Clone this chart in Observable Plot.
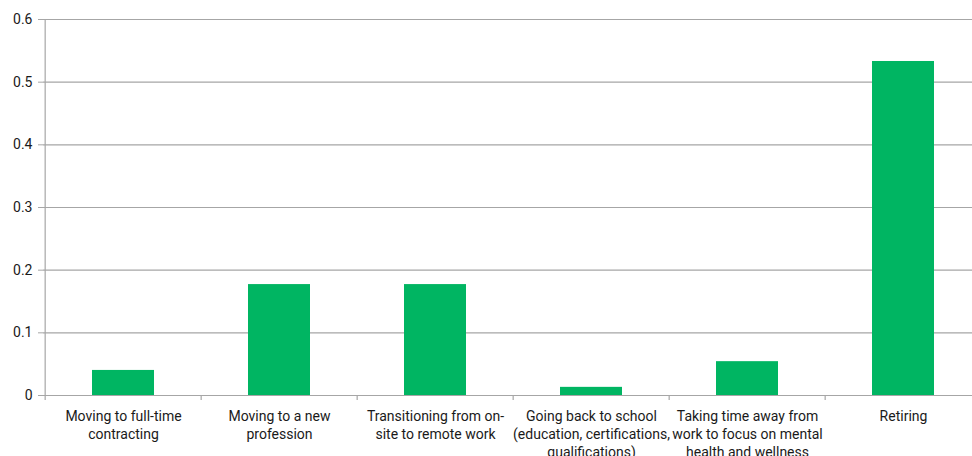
<!DOCTYPE html>
<html>
<head>
<meta charset="utf-8">
<script src="https://cdn.jsdelivr.net/npm/d3@7"></script>
<script src="https://cdn.jsdelivr.net/npm/@observablehq/plot@0.6"></script>
<style>
  html, body { margin: 0; padding: 0; background: #fff; }
  #chart svg { display: block; }
</style>
</head>
<body>
<div id="chart"></div>
<script>
const categories = [
  "Moving to full-time contracting",
  "Moving to a new profession",
  "Transitioning from on-site to remote work",
  "Going back to school (education, certifications, qualifications)",
  "Taking time away from work to focus on mental health and wellness",
  "Retiring"
];
const tickLabels = [
  "Moving to full-time\ncontracting",
  "Moving to a new\nprofession",
  "Transitioning from on-\nsite to remote work",
  "Going back to school\n(education, certifications,\nqualifications)",
  "Taking time away from\nwork to focus on mental\nhealth and wellness",
  "Retiring"
];
const values = [0.040, 0.177, 0.177, 0.013, 0.054, 0.533];
const yTicks = [0, 0.1, 0.2, 0.3, 0.4, 0.5, 0.6];

const data = categories.map((c, i) => ({category: c, value: values[i]}));
const labelOf = new Map(categories.map((c, i) => [c, tickLabels[i]]));

const W = 972, H = 456;
const left = 43, right = 983;
const step = (right - left) / categories.length;

const chart = Plot.plot({
  width: W,
  height: H,
  marginTop: 19,
  marginBottom: 61,
  marginLeft: left,
  marginRight: W - right,
  style: {fontFamily: "Roboto, 'Liberation Sans', sans-serif", fontSize: "14px", color: "#1a1a1a", background: "#fff", overflow: "hidden"},
  x: {domain: categories, range: [left, right], padding: 0},
  y: {domain: [0, 0.6], range: [H - 61, 19]},
  marks: [
    Plot.gridY(yTicks, {stroke: "#a6a6a6", strokeOpacity: 1, strokeWidth: 1.2}),
    Plot.barY(data, {x: "category", y: "value", fill: "#00b562", insetLeft: 47, insetRight: 47}),
    Plot.ruleY([0], {stroke: "#a6a6a6", strokeWidth: 1.2}),
    Plot.ruleX([0], {x: () => categories[0], dx: -step / 2, stroke: "#a6a6a6", strokeWidth: 1.2}),
    Plot.ruleX(categories, {x: d => d, y1: 0, y2: 0, insetBottom: -5, dx: -step / 2, stroke: "#a6a6a6", strokeWidth: 1.2}),
    Plot.axisY({ticks: yTicks, tickFormat: d => String(d), tickSize: 5, tickPadding: 6, stroke: "#a6a6a6", fill: "#1a1a1a", fontSize: 14, label: null}),
    Plot.axisX({tickSize: 0, tickPadding: 13, tickFormat: d => labelOf.get(d), fontSize: 14, lineHeight: 1.29, fill: "#1a1a1a", label: null})
  ]
});
document.getElementById("chart").append(chart);
</script>
</body>
</html>
